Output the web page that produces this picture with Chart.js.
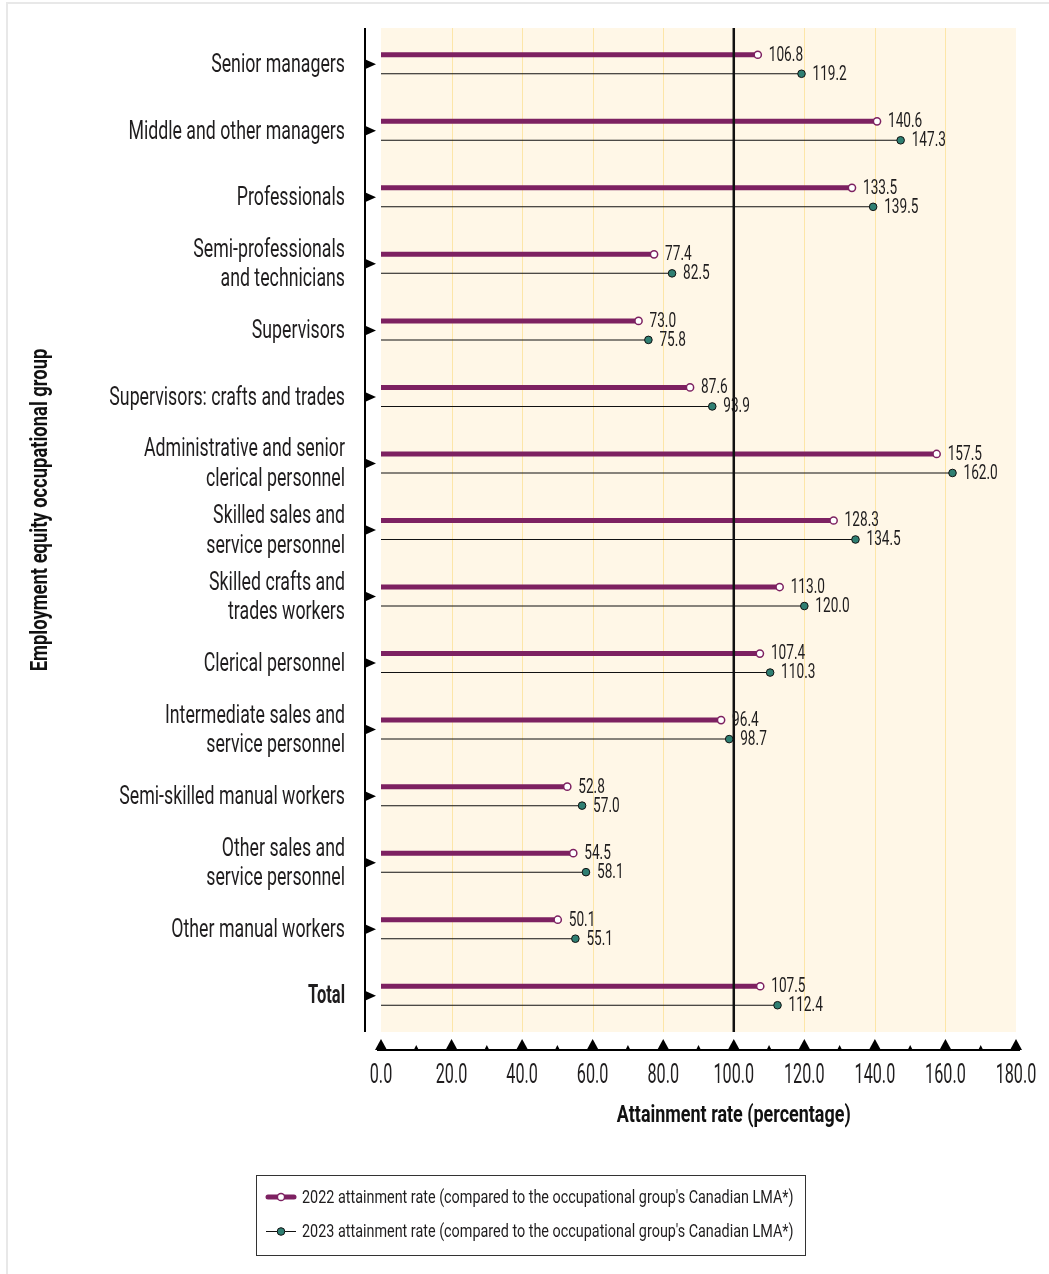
<!DOCTYPE html>
<html>
<head>
<meta charset="utf-8">
<title>Attainment rate by occupational group</title>
<script src="https://cdn.jsdelivr.net/npm/chart.js@4.4.1/dist/chart.umd.min.js"></script>
<style>
  html, body { margin: 0; padding: 0; background: #fff; }
  #wrap { position: relative; width: 1049px; height: 1274px; }
</style>
</head>
<body>
<div id="wrap"><canvas id="attainmentChart"></canvas></div>
<script>
const groups = [
  ['Senior managers'],
  ['Middle and other managers'],
  ['Professionals'],
  ['Semi-professionals', 'and technicians'],
  ['Supervisors'],
  ['Supervisors: crafts and trades'],
  ['Administrative and senior', 'clerical personnel'],
  ['Skilled sales and', 'service personnel'],
  ['Skilled crafts and', 'trades workers'],
  ['Clerical personnel'],
  ['Intermediate sales and', 'service personnel'],
  ['Semi-skilled manual workers'],
  ['Other sales and', 'service personnel'],
  ['Other manual workers'],
  ['Total']
];
const rate2022 = [106.8, 140.6, 133.5, 77.4, 73.0, 87.6, 157.5, 128.3, 113.0, 107.4, 96.4, 52.8, 54.5, 50.1, 107.5];
const rate2023 = [119.2, 147.3, 139.5, 82.5, 75.8, 93.9, 162.0, 134.5, 120.0, 110.3, 98.7, 57.0, 58.1, 55.1, 112.4];
const xTickValues = [0, 20, 40, 60, 80, 100, 120, 140, 160, 180];
const seriesNames = [
  "2022 attainment rate (compared to the occupational group's Canadian LMA*)",
  "2023 attainment rate (compared to the occupational group's Canadian LMA*)"
];

const FONT = 'Roboto, "Noto Sans", sans-serif';
const PURPLE = '#7d2161';
const TEAL = '#2f7f72';
const INK = '#1f1d1e';

// narrow lettering: draw text squeezed horizontally
function squeezed(ctx, text, x, y, sx, align) {
  ctx.save();
  ctx.translate(x, y);
  ctx.scale(sx, 1);
  ctx.textAlign = align;
  ctx.fillText(text, 0, 0);
  ctx.restore();
}

function dot2022(ctx, x, y) {
  ctx.beginPath();
  ctx.arc(x, y, 3.6, 0, Math.PI * 2);
  ctx.fillStyle = '#fff';
  ctx.fill();
  ctx.lineWidth = 1.5;
  ctx.strokeStyle = PURPLE;
  ctx.stroke();
}

function dot2023(ctx, x, y) {
  ctx.beginPath();
  ctx.arc(x, y, 3.8, 0, Math.PI * 2);
  ctx.fillStyle = TEAL;
  ctx.fill();
  ctx.lineWidth = 1;
  ctx.strokeStyle = '#111';
  ctx.stroke();
}

function triangle(ctx, x1, y1, x2, y2, x3, y3) {
  ctx.beginPath();
  ctx.moveTo(x1, y1);
  ctx.lineTo(x2, y2);
  ctx.lineTo(x3, y3);
  ctx.closePath();
  ctx.fill();
}

const decorations = {
  id: 'decorations',
  beforeDraw(chart) {
    const { ctx, chartArea: a } = chart;
    const x = chart.scales.x;
    ctx.save();
    // page frame
    ctx.strokeStyle = '#e8e8e8';
    ctx.lineWidth = 2;
    ctx.strokeRect(7, 3, 1100, 1300);
    // plot background
    ctx.fillStyle = '#fff7e7';
    ctx.fillRect(a.left, a.top - 3, a.right - a.left, a.bottom - a.top + 6);
    // light vertical grid
    ctx.strokeStyle = '#fde6a8';
    ctx.lineWidth = 1;
    xTickValues.forEach(v => {
      if (v === 0 || v === 100 || v === 180) return;
      const px = Math.round(x.getPixelForValue(v)) + 0.5;
      ctx.beginPath();
      ctx.moveTo(px, a.top - 3);
      ctx.lineTo(px, a.bottom + 3);
      ctx.stroke();
    });
    ctx.restore();
  },
  afterDatasetsDraw(chart) {
    const { ctx, chartArea: a } = chart;
    const x = chart.scales.x;
    ctx.save();
    // 100% reference line
    const ref = x.getPixelForValue(100);
    ctx.strokeStyle = '#111';
    ctx.lineWidth = 2.5;
    ctx.beginPath();
    ctx.moveTo(ref, a.top - 3);
    ctx.lineTo(ref, a.bottom + 3);
    ctx.stroke();

    // end markers and value labels
    ctx.font = '19.5px ' + FONT;
    ctx.textBaseline = 'middle';
    chart.data.datasets.forEach((ds, i) => {
      const meta = chart.getDatasetMeta(i);
      meta.data.forEach((bar, j) => {
        if (i === 0) dot2022(ctx, bar.x, bar.y);
        else dot2023(ctx, bar.x, bar.y);
        ctx.fillStyle = INK;
        squeezed(ctx, ds.data[j].toFixed(1), bar.x + 11, bar.y + 1, 0.7, 'left');
      });
    });
    ctx.restore();
  },
  afterDraw(chart) {
    const { ctx, chartArea: a } = chart;
    const x = chart.scales.x;
    const y = chart.scales.y;
    ctx.save();
    ctx.fillStyle = '#000';
    ctx.strokeStyle = '#000';

    // category axis with arrow markers
    ctx.lineWidth = 2;
    ctx.beginPath();
    ctx.moveTo(365, a.top - 3);
    ctx.lineTo(365, a.bottom + 3);
    ctx.stroke();
    groups.forEach((g, i) => {
      const c = y.getPixelForValue(i);
      triangle(ctx, 366, c - 4.5, 376, c, 366, c + 4.5);
    });

    // category labels
    ctx.fillStyle = INK;
    ctx.textBaseline = 'middle';
    groups.forEach((lines, i) => {
      const c = y.getPixelForValue(i);
      const bold = i === groups.length - 1;
      ctx.font = (bold ? 'bold ' : '') + '25px ' + FONT;
      lines.forEach((line, k) => {
        const ly = c + 1.5 + (k - (lines.length - 1) / 2) * 29.5;
        squeezed(ctx, line, 345, ly, bold ? 0.66 : 0.71, 'right');
      });
    });

    // value axis with triangle ticks
    ctx.fillStyle = '#000';
    const axisY = 1050;
    ctx.beginPath();
    ctx.moveTo(x.getPixelForValue(0) - 4, axisY);
    ctx.lineTo(x.getPixelForValue(180) + 4, axisY);
    ctx.stroke();
    for (let v = 0; v <= 180; v += 10) {
      const px = x.getPixelForValue(v);
      if (v % 20 === 0) triangle(ctx, px - 6, axisY, px, axisY - 11, px + 6, axisY);
      else triangle(ctx, px - 2.5, axisY, px, axisY - 5, px + 2.5, axisY);
    }

    // value axis labels
    ctx.fillStyle = INK;
    ctx.font = '27px ' + FONT;
    xTickValues.forEach(v => {
      squeezed(ctx, v.toFixed(1), x.getPixelForValue(v), 1076, 0.6, 'center');
    });

    // axis titles
    ctx.fillStyle = '#111';
    ctx.font = 'bold 23px ' + FONT;
    squeezed(ctx, 'Attainment rate (percentage)', x.getPixelForValue(100), 1116, 0.78, 'center');
    ctx.save();
    ctx.translate(41, 510);
    ctx.rotate(-Math.PI / 2);
    squeezed(ctx, 'Employment equity occupational group', 0, 0, 0.8, 'center');
    ctx.restore();

    // legend
    ctx.strokeStyle = '#333';
    ctx.lineWidth = 1;
    ctx.strokeRect(256.5, 1175.5, 549, 80);
    ctx.lineCap = 'round';
    ctx.strokeStyle = PURPLE;
    ctx.lineWidth = 5;
    ctx.beginPath();
    ctx.moveTo(268, 1197);
    ctx.lineTo(294, 1197);
    ctx.stroke();
    dot2022(ctx, 281, 1197);
    ctx.lineCap = 'butt';
    ctx.strokeStyle = '#111';
    ctx.lineWidth = 1;
    ctx.beginPath();
    ctx.moveTo(266, 1231.5);
    ctx.lineTo(296, 1231.5);
    ctx.stroke();
    dot2023(ctx, 281, 1231.5);
    ctx.fillStyle = INK;
    ctx.font = '19px ' + FONT;
    squeezed(ctx, seriesNames[0], 302, 1198, 0.757, 'left');
    squeezed(ctx, seriesNames[1], 302, 1232, 0.757, 'left');
    ctx.restore();
  }
};

new Chart(document.getElementById('attainmentChart'), {
  type: 'bar',
  data: {
    labels: groups,
    datasets: [
      {
        label: seriesNames[0],
        data: rate2022,
        backgroundColor: PURPLE,
        maxBarThickness: 5
      },
      {
        label: seriesNames[1],
        data: rate2023,
        backgroundColor: '#111',
        maxBarThickness: 1
      }
    ]
  },
  options: {
    indexAxis: 'y',
    responsive: true,
    maintainAspectRatio: false,
    animation: false,
    categoryPercentage: 0.571,
    barPercentage: 1,
    layout: { padding: { top: 31, right: 33, bottom: 0, left: 0 } },
    plugins: {
      legend: { display: false },
      tooltip: { enabled: false }
    },
    scales: {
      x: {
        min: 0,
        max: 180,
        grid: { display: false },
        border: { display: false },
        ticks: { display: false, stepSize: 20 },
        afterFit(scale) {
          scale.height = 245;
          scale.paddingLeft = 0;
          scale.paddingRight = 0;
        }
      },
      y: {
        grid: { display: false },
        border: { display: false },
        ticks: { display: false },
        afterFit(scale) {
          scale.width = 381;
          scale.paddingTop = 0;
          scale.paddingBottom = 0;
        }
      }
    }
  },
  plugins: [decorations]
});
</script>
</body>
</html>
